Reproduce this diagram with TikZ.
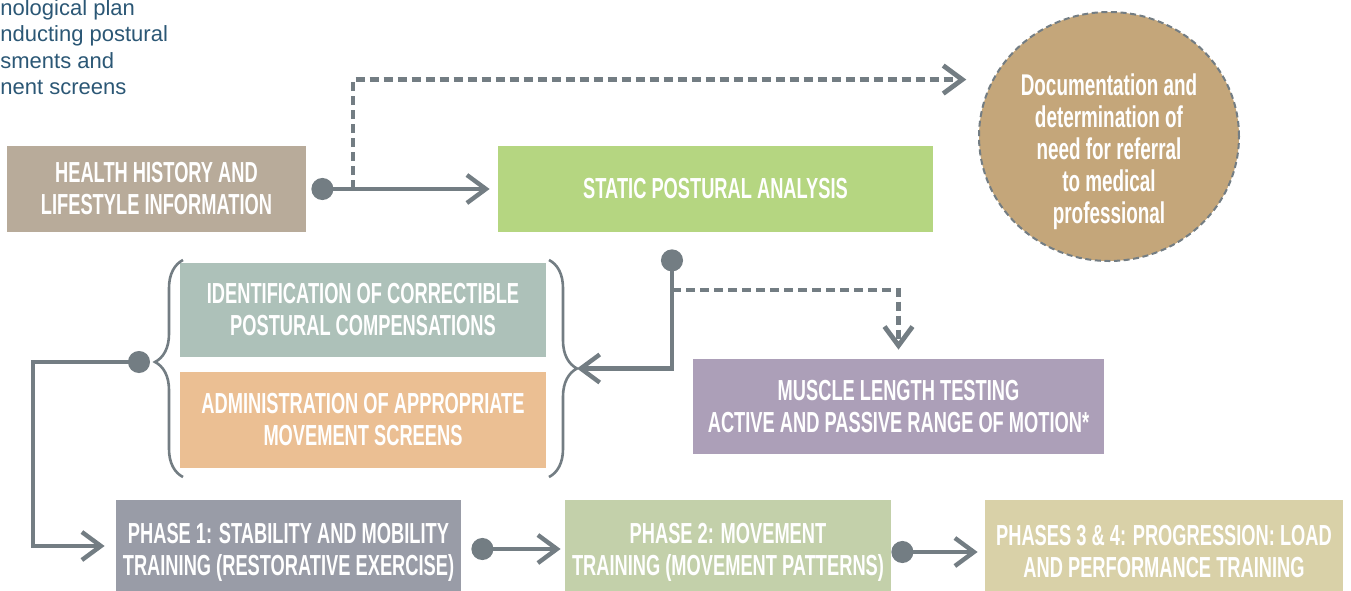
\documentclass[tikz,border=0pt]{standalone}
\usepackage{fontspec}
\setmainfont{Liberation Sans}
\newfontfamily\condfont[FakeStretch=0.63]{Liberation Sans}
\usetikzlibrary{arrows.meta, decorations.pathreplacing, shapes.geometric}

\definecolor{healthtan}{HTML}{B8AB9A}
\definecolor{staticgreen}{HTML}{B5D681}
\definecolor{doctan}{HTML}{C4A67A}
\definecolor{identsage}{HTML}{ADC1B9}
\definecolor{adminpeach}{HTML}{EBBF93}
\definecolor{musclelav}{HTML}{AC9FB8}
\definecolor{phaseone}{HTML}{999CA7}
\definecolor{phasetwo}{HTML}{C3D0AA}
\definecolor{phasethree}{HTML}{D9D1A8}
\definecolor{linegray}{HTML}{737D83}
\definecolor{planblue}{HTML}{2B5775}

\begin{document}
\begin{tikzpicture}[x=0.5pt, y=-0.5pt,
    box/.style={rectangle, inner sep=0pt, text=white, align=center,
        font=\condfont\bfseries\fontsize{14.5}{16}\selectfont},
    circtext/.style={inner sep=0pt, text=white, align=center,
        font=\condfont\bfseries\fontsize{15}{16}\selectfont},
    flow/.style={draw=linegray, line width=2.2pt, -{Straight Barb[length=9.5pt, width=14pt]}},
    dotflow/.style={flow, {Circle[length=11pt]}-{Straight Barb[length=9.5pt, width=14pt]}},
    dashflow/.style={flow, line width=2.4pt, dash pattern=on 4.5pt off 2.5pt},
    curly/.style={draw=linegray, line width=1.3pt, decorate, decoration={brace, amplitude=14pt}}
]
    \useasboundingbox (0,0) rectangle (1351,590);

    % heading, cut at the left edge
    \node(plan)[anchor=north west, align=left, inner sep=0pt, text=planblue,
        font=\fontsize{11}{13.25}\selectfont] at (0,-1)
        {nological plan\\nducting postural\\sments and\\nent screens};

    % boxes
    \node(health)[box, fill=healthtan, minimum width=149.5pt, minimum height=43pt] at (156.5,189)
        {HEALTH HISTORY AND\\LIFESTYLE INFORMATION};
    \node(static)[box, fill=staticgreen, minimum width=217.5pt, minimum height=43pt] at (715.5,189)
        {STATIC POSTURAL ANALYSIS};
    \node(doc)[ellipse, fill=doctan, draw=linegray, line width=1pt, dash pattern=on 3pt off 1.8pt,
        minimum width=130pt, minimum height=124.5pt, inner sep=0pt] at (1109,136.5) {};
    \node(doctext)[circtext] at ([yshift=-7.75pt]doc.center)
        {Documentation and\\determination of\\need for referral\\to medical\\professional};
    \node(ident)[box, fill=identsage, minimum width=183pt, minimum height=47pt] at (363,310)
        {IDENTIFICATION OF CORRECTIBLE\\POSTURAL COMPENSATIONS};
    \node(admin)[box, fill=adminpeach, minimum width=183pt, minimum height=48pt] at (363,420)
        {ADMINISTRATION OF APPROPRIATE\\MOVEMENT SCREENS};
    \node(muscle)[box, fill=musclelav, minimum width=205.5pt, minimum height=47.5pt] at (898.5,406.5)
        {MUSCLE LENGTH TESTING\\ACTIVE AND PASSIVE RANGE OF MOTION*};
    \node(phase1)[box, fill=phaseone, minimum width=172.5pt, minimum height=52pt] at (288.5,552)
        {PHASE 1: STABILITY AND MOBILITY\\TRAINING (RESTORATIVE EXERCISE)};
    \node(phase2)[box, fill=phasetwo, minimum width=163pt, minimum height=52pt] at (728,552)
        {PHASE 2: MOVEMENT\\TRAINING (MOVEMENT PATTERNS)};
    \node(phase34)[box, fill=phasethree, minimum width=179pt, minimum height=52pt] at (1164,552)
        {PHASES 3 \& 4: PROGRESSION: LOAD\\AND PERFORMANCE TRAINING};

    % braces round the two screening boxes
    \draw[curly, decoration={aspect=0.53}] (183,477) -- (183,260);
    \draw[curly] (549,260) -- (549,477);
    \coordinate(lbrace) at (155,362);
    \coordinate(rbrace) at (577,368.5);

    % connectors
    \coordinate(hsplit) at (353,189);
    \coordinate(ssplit) at (672,290);
    \draw[dashflow, shorten >=13pt] (hsplit) |- (doc.154);
    \draw[dashflow, shorten >=4.5pt] (ssplit) -| (muscle.north);
    \draw[dotflow, shorten <=2.5pt, shorten >=4pt] (health.east) -- (static.west);
    \draw[dotflow, shorten <=8.5pt] ([xshift=-21.75pt]static.south) |- (rbrace);
    \draw[dotflow, shorten <=2.5pt, shorten >=5.5pt] (lbrace) -- ++(-122,0) |- ([yshift=3pt]phase1.west);
    \draw[dotflow, shorten <=5pt, shorten >=2pt] ([yshift=1.5pt]phase1.east) -- ([yshift=1.5pt]phase2.west);
    \draw[dotflow, shorten >=3.5pt] (phase2.east) -- (phase34.west);

\end{tikzpicture}
\end{document}
